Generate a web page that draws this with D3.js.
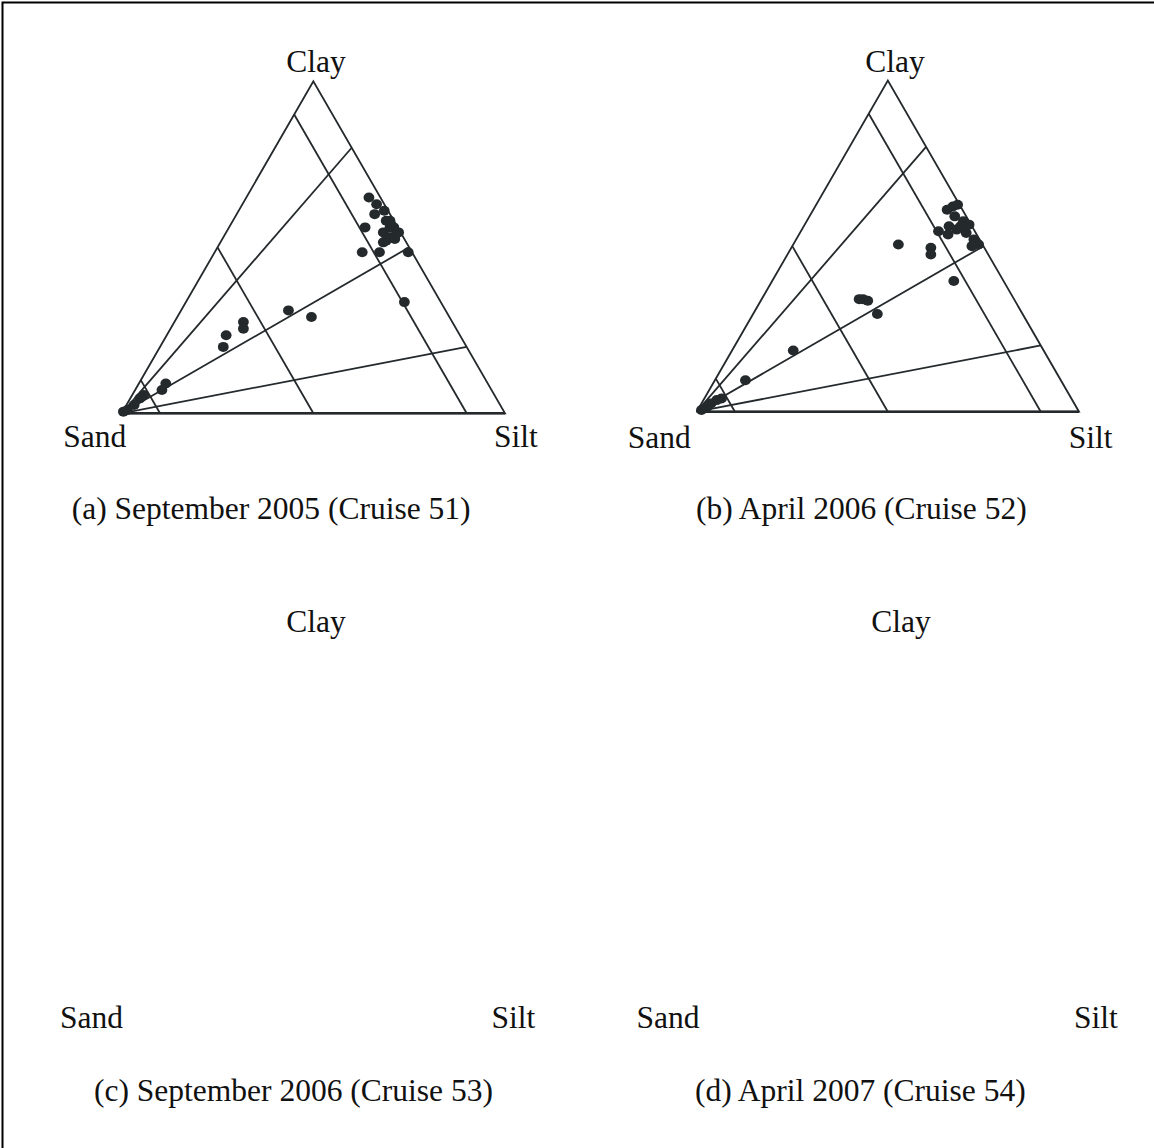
<!DOCTYPE html>
<html>
<head>
<meta charset="utf-8">
<script src="https://cdn.jsdelivr.net/npm/d3@7"></script>
<style>
  html, body { margin: 0; padding: 0; background: #fff; }
  svg { display: block; }
  text { font-family: "Liberation Serif", "Times New Roman", serif; fill: #111; }
</style>
</head>
<body>
<svg id="chart" width="1154" height="1148"></svg>
<script>
// Sediment composition of surface samples, percentages [sand, silt, clay]
const cruise51 = [
  [3, 32, 65], [2, 35, 63], [1, 38, 61], [4, 36, 60], [8.5, 35.5, 56],
  [2, 40, 58], [1, 43, 56], [4.5, 41, 54.5], [3.5, 43.5, 53], [0.5, 45, 54.5],
  [5, 43, 52], [2.5, 45, 52.5], [2, 42, 56], [1, 44.5, 54.5], [6, 42.5, 51.5], [1, 41, 58],
  [13, 38.5, 48.5], [8.5, 43, 48.5], [1, 50.5, 48.5], [9.5, 57, 33.5],
  [36, 35, 29], [41, 28, 31], [54.5, 18, 27.5], [55.5, 19, 25.5], [61, 15.5, 23.5], [63.5, 16.5, 20],
  [84, 7, 9], [86, 7, 7], [91.5, 3, 5.5], [93, 2.5, 4.5], [95.5, 2, 2.5], [98, 1, 1], [99.3, 0.2, 0.5]
];
const cruise52 = [
  [4, 35, 61], [2, 36, 62], [0.5, 37, 62.5], [3, 38, 59], [1.5, 41, 57.5], [0.5, 43, 56.5],
  [6, 38, 56], [4.5, 40.5, 55], [3, 41, 56], [7.5, 39, 53.5], [2.5, 43.5, 54],
  [1.5, 46.5, 52], [1, 48.5, 50.5], [3, 47, 50], [9.5, 36, 54.5],
  [22, 27.5, 50.5], [14, 36.5, 49.5], [15, 37.5, 47.5], [13, 47.5, 39.5],
  [40.5, 25.5, 34], [39.5, 26.5, 34], [38.5, 28, 33.5], [38, 32.5, 29.5],
  [65.5, 16, 18.5], [82.5, 8, 9.5], [91.5, 4.5, 4], [93, 3.5, 3.5], [95, 2.5, 2.5], [96.5, 2, 1.5], [98.5, 1, 0.5]
];
const cruise53 = [];
const cruise54 = [];

// Classification boundaries: sand contours (%) and clay share of the mud fraction
const sandLevels = [10, 50, 90];
const clayShares = [0.2, 0.5, 0.8];

const cornerNames = ["Sand", "Silt", "Clay"];
const captions = [
  "(a) September 2005 (Cruise 51)",
  "(b) April 2006 (Cruise 52)",
  "(c) September 2006 (Cruise 53)",
  "(d) April 2007 (Cruise 54)"
];

const ink = "#24292c";
const svg = d3.select("#chart");

// frame lines along the top and left edges
svg.append("path")
  .attr("d", "M2.5,1148V2.5H1154")
  .attr("fill", "none").attr("stroke", "#000").attr("stroke-width", 2);

const panels = [
  { data: cruise51, drawn: true, x0: 121.7, x1: 505, base: 413.3,
    clay: [316, 72], sand: [63.3, 447], silt: [494, 447], cap: [71.7, 519] },
  { data: cruise52, drawn: true, x0: 696.7, x1: 1079, base: 411.7,
    clay: [895, 72], sand: [627.7, 448], silt: [1068.8, 448], cap: [696, 519] },
  { data: cruise53, drawn: false, x0: 121.7, x1: 505, base: 990,
    clay: [316, 632], sand: [60, 1028], silt: [491.5, 1028], cap: [94, 1101] },
  { data: cruise54, drawn: false, x0: 696.7, x1: 1079, base: 990,
    clay: [901, 632], sand: [636.5, 1028], silt: [1074, 1028], cap: [695, 1101] }
];

panels.forEach((p, i) => {
  const g = svg.append("g");
  const side = p.x1 - p.x0;
  const h = side * Math.sqrt(3) / 2;
  // ternary projection built from two linear scales
  const xs = d3.scaleLinear().domain([0, 100]).range([p.x0, p.x1]);
  const ys = d3.scaleLinear().domain([0, 100]).range([p.base, p.base - h]);
  const proj = ([sand, silt, clay]) => [xs(silt + clay / 2), ys(clay)];
  const line = d3.line();

  if (p.drawn) {
    const segs = [];
    // outline
    segs.push([[100, 0, 0], [0, 100, 0], [0, 0, 100], [100, 0, 0]]);
    // sand contours
    sandLevels.forEach(s => segs.push([[s, 0, 100 - s], [s, 100 - s, 0]]));
    // rays from the sand corner
    clayShares.forEach(c => segs.push([[100, 0, 0], [0, 100 * (1 - c), 100 * c]]));

    g.selectAll("path.grid").data(segs).join("path")
      .attr("class", "grid")
      .attr("d", s => line(s.map(proj)))
      .attr("fill", "none")
      .attr("stroke", ink)
      .attr("stroke-width", 1.8)
      .attr("stroke-linejoin", "miter");

    // heavier base line
    g.append("path")
      .attr("d", line([[100, 0, 0], [0, 100, 0]].map(proj)))
      .attr("stroke", ink).attr("stroke-width", 2.6);

    g.selectAll("ellipse").data(p.data).join("ellipse")
      .attr("cx", d => proj(d)[0])
      .attr("cy", d => proj(d)[1])
      .attr("rx", 5.4).attr("ry", 5)
      .attr("fill", ink);
  }

  const fs = 31.5;
  g.append("text").attr("x", p.clay[0]).attr("y", p.clay[1])
    .attr("text-anchor", "middle").attr("font-size", fs).text(cornerNames[2]);
  g.append("text").attr("x", p.sand[0]).attr("y", p.sand[1])
    .attr("font-size", fs).text(cornerNames[0]);
  g.append("text").attr("x", p.silt[0]).attr("y", p.silt[1])
    .attr("font-size", fs).text(cornerNames[1]);
  g.append("text").attr("x", p.cap[0]).attr("y", p.cap[1])
    .attr("font-size", fs).text(captions[i]);
});
</script>
</body>
</html>
